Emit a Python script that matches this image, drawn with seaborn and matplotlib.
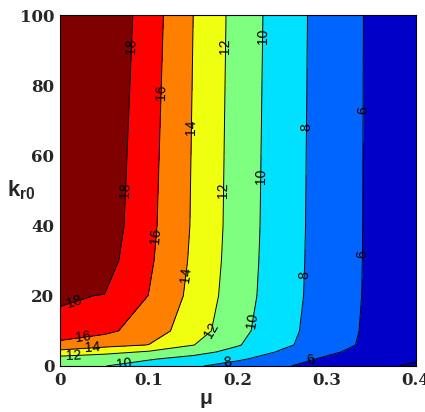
import numpy as np
import matplotlib
matplotlib.use("Agg")
import matplotlib.pyplot as plt
import seaborn as sns

# Achsen-Gitter (mu horizontal, k_r0 vertikal)
mu_values = [0.0, 0.05, 0.10, 0.15, 0.20, 0.25, 0.30, 0.35, 0.40]
kr0_values = [0, 2, 4, 6, 10, 20, 30, 40, 100]

# Feldwerte pro k_r0-Zeile
field_k0 = [10.50, 10.04, 9.16, 8.24, 7.22, 6.17, 5.32, 4.50, 3.70]
field_k2 = [11.00, 10.58, 10.16, 9.34, 8.28, 7.00, 5.65, 4.90, 4.20]
field_k4 = [13.50, 12.66, 11.76, 10.67, 9.36, 7.74, 6.42, 5.10, 4.10]
field_k6 = [15.19, 14.59, 13.96, 12.04, 10.13, 8.38, 6.90, 5.50, 4.20]
field_k10 = [17.73, 16.47, 14.98, 12.95, 10.58, 8.60, 7.03, 5.60, 4.25]
field_k20 = [18.12, 17.96, 15.95, 13.42, 10.90, 8.78, 7.13, 5.68, 4.30]
field_k30 = [20.50, 18.80, 16.30, 13.65, 11.02, 8.84, 7.16, 5.70, 4.33]
field_k40 = [21.50, 19.19, 16.49, 13.78, 11.10, 8.88, 7.18, 5.71, 4.35]
field_k100 = [22.00, 19.80, 16.97, 13.98, 11.27, 9.00, 7.22, 5.73, 4.40]

line_levels = [4, 6, 8, 10, 12, 14, 16, 18]
x_ticks = [0, 0.1, 0.2, 0.3, 0.4]
x_tick_labels = ['0', '0.1', '0.2', '0.3', '0.4']
y_ticks = [0, 20, 40, 60, 80, 100]


def main():
    field = np.array([field_k0, field_k2, field_k4, field_k6, field_k10,
                      field_k20, field_k30, field_k40, field_k100])

    sns.set_style("white")
    plt.rcParams['font.family'] = ['Liberation Sans', 'DejaVu Sans']
    plt.rcParams['mathtext.fontset'] = 'custom'
    plt.rcParams['mathtext.bf'] = 'Liberation Sans:bold'
    plt.rcParams['mathtext.rm'] = 'Liberation Sans'

    # jet-artige Farben, eine pro Band
    band_colors = sns.color_palette(['#00008c', '#0000c8', '#0064ff', '#00e0ff',
                                     '#7fff7f', '#f0ff10', '#ff8000', '#ff0000',
                                     '#800000'])
    fill_levels = [0] + line_levels + [30]

    fig = plt.figure(figsize=(4.25, 4.12), dpi=100)
    ax = fig.add_axes([60 / 425, 46 / 412, 356 / 425, 351 / 412])

    ax.contourf(mu_values, kr0_values, field, levels=fill_levels, colors=band_colors)
    cs = ax.contour(mu_values, kr0_values, field, levels=line_levels,
                    colors='black', linewidths=0.7)

    label_spots = [
        (0.083, 91), (0.077, 50), (0.018, 17),
        (0.117, 78), (0.110, 37), (0.026, 7.5),
        (0.150, 68), (0.142, 26), (0.037, 4.6),
        (0.186, 91), (0.185, 50), (0.172, 10), (0.015, 2.2),
        (0.226, 94), (0.225, 54), (0.217, 13), (0.072, 1.0),
        (0.278, 68), (0.276, 26), (0.188, 0.6),
        (0.344, 73), (0.343, 32), (0.283, 0.8),
    ]
    ax.clabel(cs, fmt='%d', manual=label_spots, inline=False, fontsize=10, colors='black')

    tick_font = dict(fontfamily='DejaVu Serif', fontweight='bold', fontsize=12)
    ax.set_xlim(0, 0.4)
    ax.set_ylim(0, 100)
    ax.set_xticks(x_ticks)
    ax.set_xticklabels(x_tick_labels, **tick_font)
    ax.set_yticks(y_ticks)
    ax.set_yticklabels([str(t) for t in y_ticks], **tick_font)
    ax.tick_params(direction='in', top=True, right=True, length=4, width=0.7,
                   color='black', pad=4)
    for sp in ax.spines.values():
        sp.set_color('black')
        sp.set_linewidth(0.8)

    ax.set_xlabel('\u03bc', fontsize=15, fontweight='bold')
    ax.xaxis.set_label_coords(0.41, -0.065)
    ax.set_ylabel(r'$\mathbf{k_{r0}}$', fontsize=16, rotation=0, ha='center', va='center')
    ax.yaxis.set_label_coords(-0.11, 0.5)

    fig.savefig('out.png', dpi=100)
    plt.close(fig)


if __name__ == "__main__":
    main()
